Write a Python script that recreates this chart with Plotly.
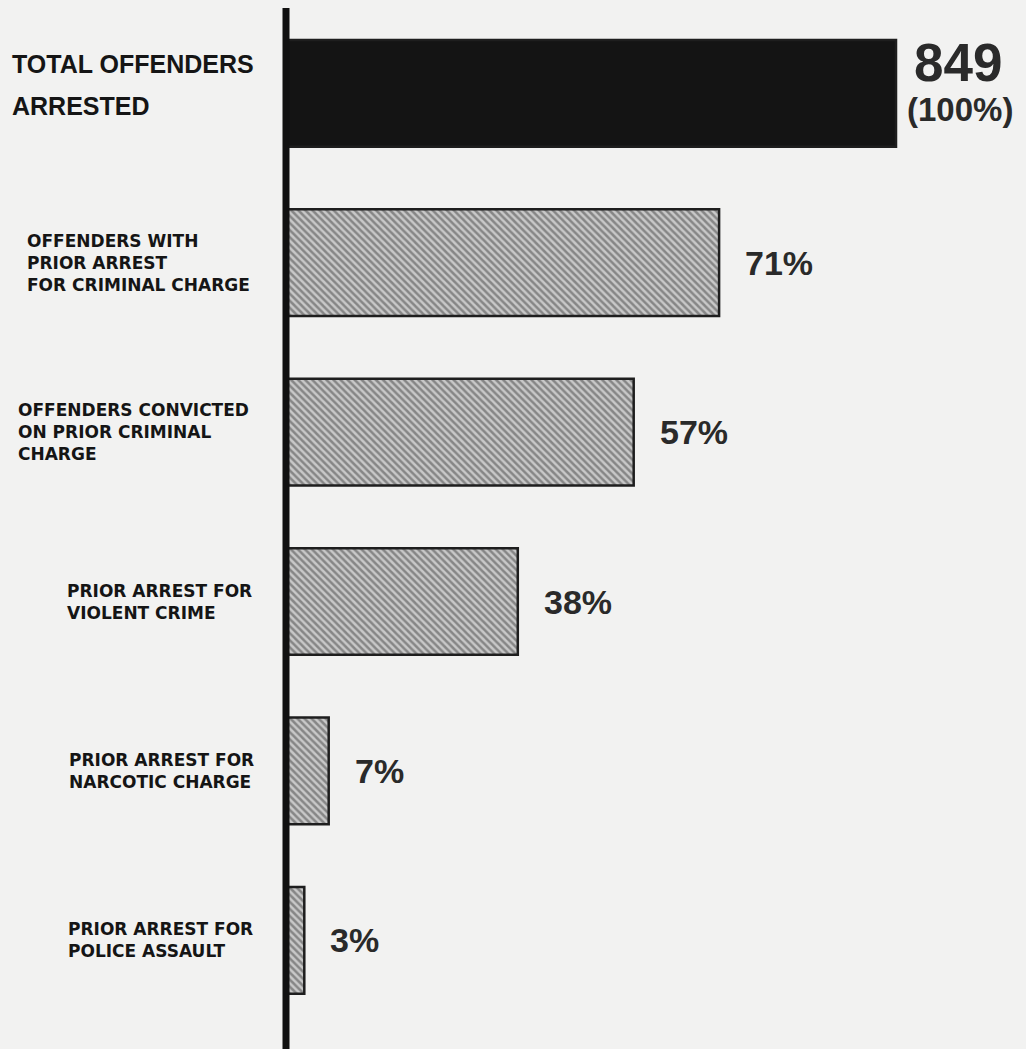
import plotly.graph_objects as go

# ---- data ----
categories = [
    "TOTAL OFFENDERS ARRESTED",
    "OFFENDERS WITH PRIOR ARREST FOR CRIMINAL CHARGE",
    "OFFENDERS CONVICTED ON PRIOR CRIMINAL CHARGE",
    "PRIOR ARREST FOR VIOLENT CRIME",
    "PRIOR ARREST FOR NARCOTIC CHARGE",
    "PRIOR ARREST FOR POLICE ASSAULT",
]
label_lines = [
    ["TOTAL OFFENDERS", "ARRESTED"],
    ["OFFENDERS WITH", "PRIOR ARREST", "FOR CRIMINAL CHARGE"],
    ["OFFENDERS CONVICTED", "ON PRIOR CRIMINAL", "CHARGE"],
    ["PRIOR ARREST FOR", "VIOLENT CRIME"],
    ["PRIOR ARREST FOR", "NARCOTIC CHARGE"],
    ["PRIOR ARREST FOR", "POLICE ASSAULT"],
]
percent = [100, 71, 57, 38, 7, 3]
total_count = 849
value_labels = ["849", "71%", "57%", "38%", "7%", "3%"]

# ---- styling ----
W, H = 1026, 1049
BG = "#f2f2f1"
axis_px = 286
x_dom0 = axis_px / W
px_per_unit = 6.10
x_max = (W - axis_px) / px_per_unit
pitch = 169.4
c0 = 93.3
y_top = -c0 / pitch
y_bot = (H - c0) / pitch

bar_colors = ["#141414"] + ["#c8c8c8"] * (len(percent) - 1)
pattern_shapes = [""] + ["\\"] * (len(percent) - 1)

fig = go.Figure()
fig.add_trace(go.Bar(
    y=categories,
    x=percent,
    orientation="h",
    width=0.63,
    marker=dict(
        color=bar_colors,
        line=dict(color="#1e1e1e", width=2.5),
        pattern=dict(shape=pattern_shapes, fillmode="overlay",
                     fgcolor="#262626", size=5, solidity=0.5),
    ),
    hoverinfo="skip",
    showlegend=False,
))

annotations = []
# left labels
label_x = [10, 25, 16, 65, 67, 66]
for i, (cat, lines) in enumerate(zip(categories, label_lines)):
    if i == 0:
        for j, line in enumerate(lines):
            annotations.append(dict(
                x=label_x[i] / W, xref="paper", y=cat, yref="y",
                text="<b>" + line + "</b>", showarrow=False,
                xanchor="left", yanchor="middle",
                yshift=21 - 42 * j + 8,
                font=dict(family="Liberation Sans", size=25, color="#151515"),
            ))
    else:
        annotations.append(dict(
            x=label_x[i] / W, xref="paper", y=cat, yref="y",
            text="<b>" + "<br>".join(lines) + "</b>", showarrow=False,
            xanchor="left", yanchor="middle", align="left",
            font=dict(family="DejaVu Sans", size=17, color="#151515"),
        ))

# value labels
annotations.append(dict(
    x=percent[0], xref="x", y=categories[0], yref="y",
    text="<b>%d</b>" % total_count, showarrow=False, xanchor="center",
    yanchor="middle", xshift=62, yshift=31,
    font=dict(family="Liberation Sans", size=53, color="#2a2a2a"),
))
annotations.append(dict(
    x=percent[0], xref="x", y=categories[0], yref="y",
    text="<b>(%d%%)</b>" % percent[0], showarrow=False, xanchor="center",
    yanchor="middle", xshift=64, yshift=-16,
    font=dict(family="Liberation Sans", size=33, color="#2a2a2a"),
))
for i in range(1, len(percent)):
    annotations.append(dict(
        x=percent[i], xref="x", y=categories[i], yref="y",
        text="<b>" + value_labels[i] + "</b>", showarrow=False,
        xanchor="left", yanchor="middle", xshift=24,
        font=dict(family="Liberation Sans", size=34, color="#2a2a2a"),
    ))

fig.update_layout(
    width=W, height=H,
    margin=dict(l=0, r=0, t=0, b=0),
    paper_bgcolor=BG, plot_bgcolor=BG,
    xaxis=dict(domain=[x_dom0, 1], range=[0, x_max], visible=False, fixedrange=True),
    yaxis=dict(range=[y_bot, y_top], visible=False, type="category", fixedrange=True),
    annotations=annotations,
    shapes=[dict(type="line", xref="paper", yref="paper", x0=x_dom0, x1=x_dom0,
                 y0=0, y1=1 - 8 / H, line=dict(color="#111111", width=7),
                 layer="above")],
    bargap=0,
)

fig.write_html(
    "out.html",
    config={"displayModeBar": False, "staticPlot": True},
    post_script="document.body.style.margin='0';document.body.style.padding='0';"
                "document.body.style.background='%s';" % BG,
)
